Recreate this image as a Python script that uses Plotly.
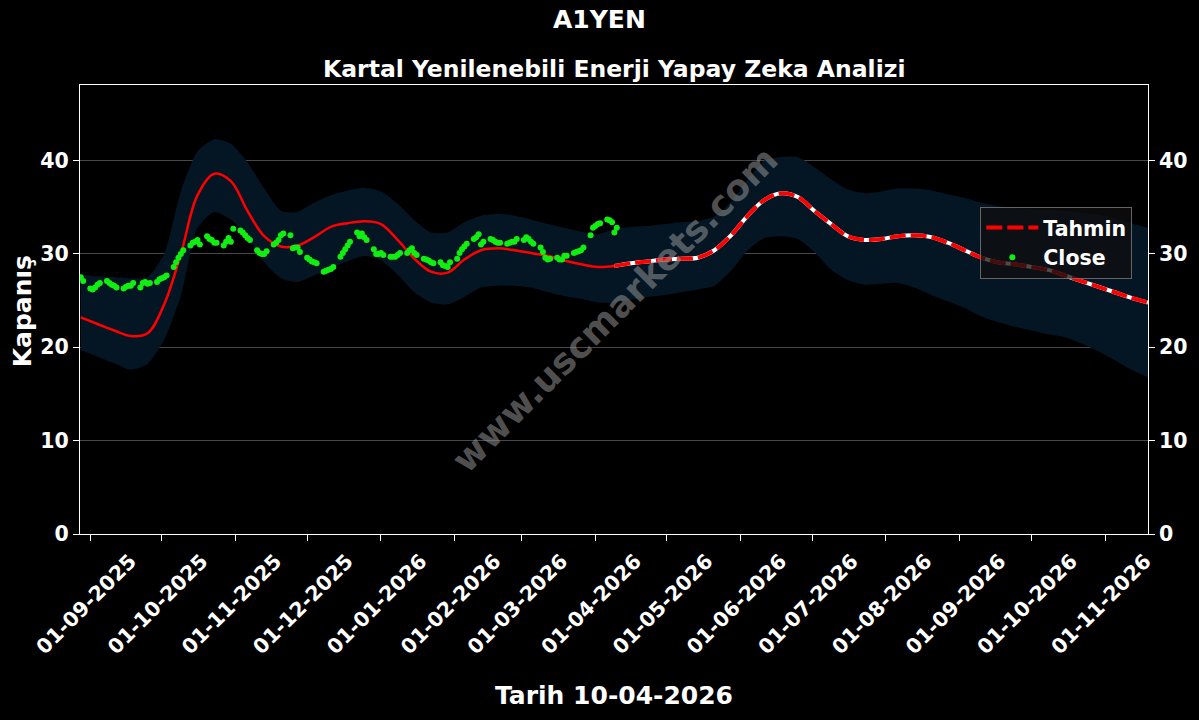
import pandas as pd
import plotly.graph_objects as go

# ---------------- data ----------------
# weekly grid for model curve and confidence band
band_dates = pd.date_range("2025-08-28", periods=65, freq="7D")

tahmin = [23.2, 22.5, 21.8, 21.2, 21.5, 24.6, 30.0, 36.3, 38.6, 37.8,
          34.6, 31.9, 30.8, 30.9, 31.8, 32.9, 33.3, 33.5, 33.2, 31.5,
          29.5, 28.1, 28.0, 29.4, 30.4, 30.6, 30.4, 30.1, 29.8, 29.3,
          28.9, 28.6, 28.7, 29.0, 29.2, 29.4, 29.5, 29.6, 30.4, 32.0,
          34.1, 35.8, 36.5, 36.1, 34.6, 33.2, 31.9, 31.5, 31.6, 31.9,
          32.0, 31.8, 31.2, 30.4, 29.6, 29.1, 28.9, 28.6, 28.3, 27.7,
          27.1, 26.5, 25.9, 25.3, 24.8]

band_upper = [27.8, 27.6, 27.5, 27.4, 27.5, 30.0, 36.7, 41.0, 42.3, 41.8,
              39.8, 37.0, 34.6, 34.5, 35.5, 36.3, 36.8, 37.1, 36.7, 35.4,
              33.6, 32.3, 32.3, 33.4, 34.1, 34.3, 34.1, 33.7, 33.2, 32.8,
              32.4, 32.1, 32.7, 32.9, 33.0, 33.2, 33.4, 33.5, 34.0, 35.6,
              38.0, 40.0, 40.4, 40.4, 39.3, 38.0, 36.9, 36.5, 36.7, 37.0,
              37.0, 36.8, 36.4, 36.0, 35.5, 35.1, 34.9, 34.8, 34.7, 34.6,
              34.4, 34.2, 33.8, 33.3, 32.8]

band_lower = [19.7, 19.0, 18.3, 17.6, 18.2, 20.8, 25.5, 32.8, 34.5, 33.7,
              31.8, 29.1, 27.4, 27.0, 27.7, 28.5, 29.2, 29.8, 29.3, 27.8,
              25.9, 24.8, 24.6, 25.4, 26.4, 26.6, 26.6, 26.4, 25.9, 25.5,
              25.2, 24.8, 24.8, 25.1, 25.4, 25.6, 25.9, 26.2, 26.6, 28.2,
              30.4, 31.7, 31.9, 31.6, 30.2, 28.3, 27.2, 26.7, 26.8, 26.9,
              26.4, 25.6, 24.9, 24.2, 23.3, 22.7, 22.2, 21.8, 21.4, 21.1,
              20.4, 19.6, 18.6, 17.6, 16.8]

forecast_start = 32  # index of first forecast week (around 10-04-2026)

# daily closes (business days)
close_dates = pd.bdate_range("2025-08-28", "2026-04-10")
close_values = [
    27.5, 27.1,
    26.3, 26.2, 26.4, 26.7, 26.9,
    27.1, 26.9, 26.7, 26.6, 26.4,
    26.3, 26.5, 26.6, 26.6, 26.9,
    26.4, 26.9, 27.0, 26.8, 26.9,
    27.0, 27.3, 27.4, 27.5, 27.7,
    28.6, 29.1, 29.6, 30.0, 30.4,
    30.9, 31.2, 31.3, 31.5, 31.0,
    31.9, 31.6, 31.5, 31.2, 31.2,
    30.9, 31.3, 31.7, 31.3, 32.7,
    32.5, 32.3, 32.0, 31.7, 31.5,
    30.4, 30.1, 30.0, 30.0, 30.3,
    31.0, 31.2, 31.5, 32.0, 32.2,
    32.0, 30.6, 30.7, 30.7, 30.2,
    29.6, 29.4, 29.2, 29.1, 29.0,
    28.1, 28.2, 28.3, 28.4, 28.6,
    29.7, 30.1, 30.5, 30.9, 31.3,
    32.3, 31.9, 32.2, 31.8, 31.5,
    30.5, 30.0, 30.0, 30.1, 29.9,
    29.7, 29.7, 29.7, 29.9, 30.1,
    30.1, 30.4, 30.6, 30.1, 29.9,
    29.5, 29.4, 29.3, 29.1, 29.0,
    29.1, 28.8, 28.7, 28.6, 29.1,
    29.5, 30.1, 30.5, 30.8, 31.1,
    31.6, 31.8, 32.1, 31.0, 31.3,
    31.6, 31.5, 31.3, 31.2, 31.2,
    31.1, 31.2, 31.3, 31.3, 31.6,
    31.5, 31.8, 31.6, 31.3, 31.1,
    30.7, 30.2, 29.6, 29.4, 29.5,
    29.6, 29.4, 29.4, 29.8, 29.8,
    30.1, 30.2, 30.3, 30.4, 30.7,
    32.0, 32.8, 33.0, 33.2, 33.3,
    33.7, 33.6, 33.4, 32.3, 32.8,
]
assert len(close_values) == len(close_dates)

y_ticks = [0, 10, 20, 30, 40]
x_tick_dates = pd.date_range("2025-09-01", "2026-11-01", freq="MS")

# ---------------- figure ----------------
FONT = "DejaVu Sans"
BAND = "rgb(4,22,36)"

fig = go.Figure()

fig.add_trace(go.Scatter(x=band_dates, y=band_lower, mode="lines",
                         line=dict(width=0, color=BAND, shape="spline", smoothing=0.6),
                         showlegend=False, hoverinfo="skip"))
fig.add_trace(go.Scatter(x=band_dates, y=band_upper, mode="lines",
                         line=dict(width=0, color=BAND, shape="spline", smoothing=0.6),
                         fill="tonexty", fillcolor=BAND,
                         showlegend=False, hoverinfo="skip"))

# fitted part (solid red)
fig.add_trace(go.Scatter(x=band_dates[:forecast_start + 1], y=tahmin[:forecast_start + 1],
                         mode="lines", line=dict(color="red", width=2.5, shape="spline"),
                         showlegend=False))
# forecast part: white under red dashes
fig.add_trace(go.Scatter(x=band_dates[forecast_start:], y=tahmin[forecast_start:],
                         mode="lines", line=dict(color="white", width=4, shape="spline"),
                         showlegend=False, hoverinfo="skip"))
fig.add_trace(go.Scatter(x=band_dates[forecast_start:], y=tahmin[forecast_start:],
                         mode="lines", name="Tahmin",
                         line=dict(color="red", width=4, dash="16px,5px", shape="spline")))

fig.add_trace(go.Scatter(x=close_dates, y=close_values, mode="markers", name="Close",
                         marker=dict(color="#11ee11", size=6)))

# invisible trace to activate right-hand y-axis labels
fig.add_trace(go.Scatter(x=close_dates[:1], y=close_values[:1], yaxis="y2",
                         mode="markers", marker=dict(opacity=0),
                         showlegend=False, hoverinfo="skip"))

tickfont = dict(family=FONT, size=20.5, color="white", weight="bold")
yrange = [0, 48.1]

fig.update_layout(
    width=1199, height=720,
    paper_bgcolor="black", plot_bgcolor="black",
    margin=dict(l=80, r=51, t=85, b=186, autoexpand=False),
    font=dict(family=FONT, color="white"),
    showlegend=True,
    legend=dict(x=0.843, y=0.729, xanchor="left", yanchor="top",
                traceorder="normal", itemwidth=52,
                bgcolor="rgba(15,15,15,0.75)", bordercolor="rgba(110,110,110,0.9)",
                borderwidth=1, font=dict(family=FONT, size=20.5, color="white", weight="bold"),
                tracegroupgap=0),
    xaxis=dict(
        range=["2025-08-27 16:00", "2026-11-19"], automargin=False,
        tickvals=x_tick_dates, ticktext=[d.strftime("%d-%m-%Y") for d in x_tick_dates],
        tickangle=-45, tickfont=tickfont, ticklabeloverflow="allow",
        ticklabelshift=40,
        ticks="outside", ticklen=6, tickcolor="white", tickwidth=1.2,
        showgrid=False, zeroline=False,
        showline=True, linecolor="white", linewidth=1.2, mirror=True,
    ),
    yaxis=dict(
        range=yrange, tickvals=y_ticks, tickfont=tickfont, automargin=False,
        ticks="outside", ticklen=6, tickcolor="white", tickwidth=1.2,
        showgrid=True, gridcolor="rgba(120,120,120,0.6)", gridwidth=0.8,
        zeroline=False, showline=True, linecolor="white", linewidth=1.2, mirror=True,
    ),
    yaxis2=dict(
        range=yrange, tickvals=y_ticks, tickfont=tickfont, overlaying="y", side="right",
        automargin=False,
        ticks="outside", ticklen=6, tickcolor="white", tickwidth=1.2,
        showgrid=False, zeroline=False, showline=False,
    ),
    annotations=[
        dict(text="A1YEN", x=0.4864, y=1.1448, xref="paper", yref="paper",
             xanchor="center", yanchor="middle", showarrow=False,
             font=dict(family=FONT, size=25, color="white", weight="bold")),
        dict(text="Kartal Yenilenebili Enerji Yapay Zeka Analizi", x=0.5, y=1.0356,
             xref="paper", yref="paper", xanchor="center", yanchor="middle", showarrow=False,
             font=dict(family=FONT, size=23.5, color="white", weight="bold")),
        dict(text="Tarih 10-04-2026", x=0.5, y=-0.3608, xref="paper", yref="paper",
             xanchor="center", yanchor="middle", showarrow=False,
             font=dict(family=FONT, size=25, color="white", weight="bold")),
        dict(text="Kapanış", x=-0.0543, y=0.496, xref="paper", yref="paper",
             xanchor="center", yanchor="middle", showarrow=False, textangle=-90,
             font=dict(family=FONT, size=25, color="white", weight="bold")),
        dict(text="www.uscmarkets.com", x=0.501, y=0.499, xref="paper", yref="paper",
             xanchor="center", yanchor="middle", showarrow=False, textangle=-45,
             font=dict(family=FONT, size=36, color="rgba(150,150,150,0.55)", weight="bold")),
    ],
)

fig.write_html("out.html", config={"displayModeBar": False},
               post_script="document.body.style.margin='0';document.body.style.background='black';")
